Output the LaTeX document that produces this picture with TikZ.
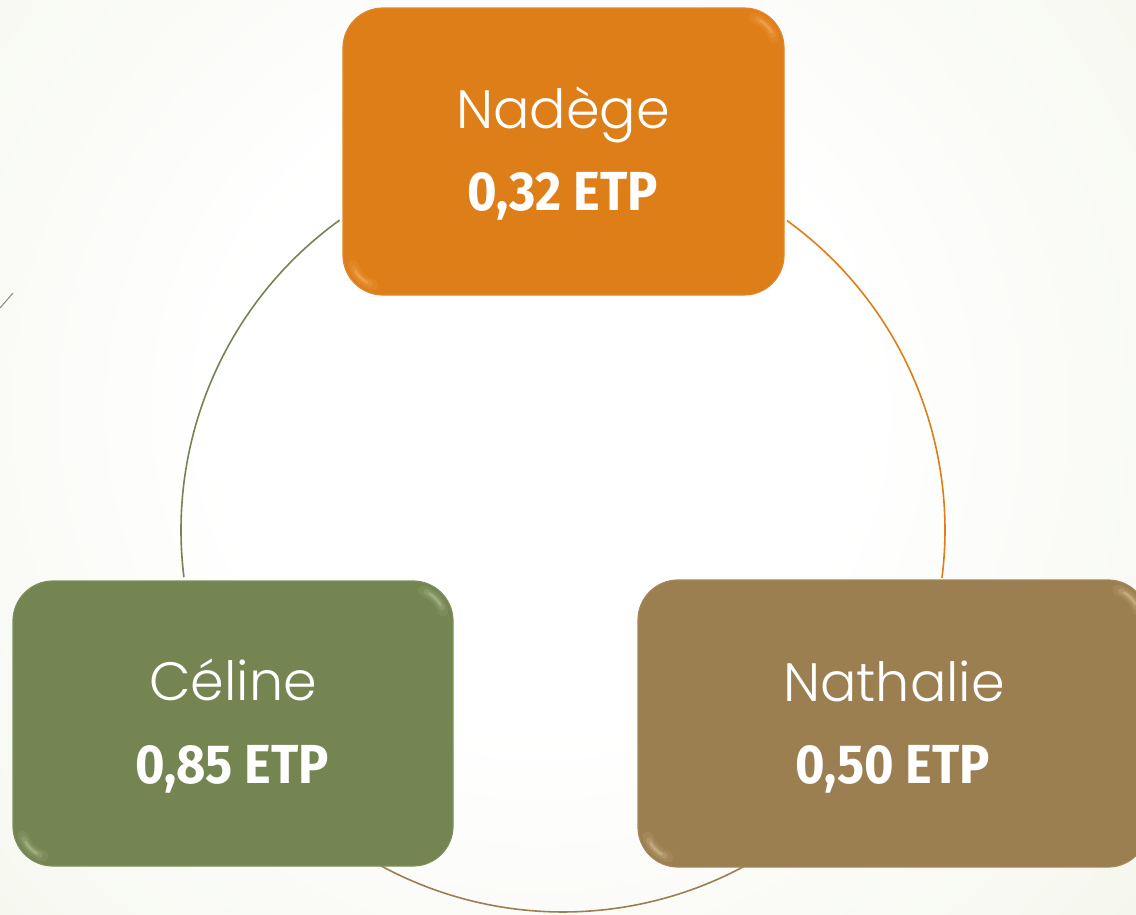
\documentclass[tikz,border=0pt]{standalone}
\usepackage{fontspec}
\newfontfamily\namefont{Poppins}[UprightFont=* Light]
\newfontfamily\valfont{Fira Sans}[FakeStretch=0.92]
\definecolor{bgc}{HTML}{EDF1E1}
\definecolor{bgd}{HTML}{E6EDD5}
\definecolor{cnad}{HTML}{DE7E19}
\definecolor{cnadl}{HTML}{E3852A}
\definecolor{cnadh}{HTML}{FFC070}
\definecolor{ccel}{HTML}{748552}
\definecolor{ccell}{HTML}{7E8F5C}
\definecolor{ccelh}{HTML}{C8D9A8}
\definecolor{cnat}{HTML}{9C7F50}
\definecolor{cnatl}{HTML}{A58858}
\definecolor{cnath}{HTML}{EAD5AA}
\definecolor{cstub}{HTML}{8C8A78}
\pgfdeclareradialshading{bgshade}{\pgfpoint{0bp}{0bp}}{color(0bp)=(white); color(10bp)=(white); color(36bp)=(bgc); color(46bp)=(bgd); color(50bp)=(bgd)}
\tikzset{
  box/.style={rectangle, rounded corners=40pt, inner sep=0pt, line width=1.2pt},
  nametext/.style={text=white, font=\namefont\fontsize{54pt}{60pt}\selectfont, inner sep=0pt, anchor=base},
  valtext/.style={text=white, font=\valfont\bfseries\fontsize{55pt}{60pt}\selectfont, inner sep=0pt, anchor=base},
  ring/.style={line width=1.6pt},
  hla/.style={line width=11pt, line cap=round, opacity=0.10},
  hlb/.style={line width=6pt, line cap=round, opacity=0.18},
  hlc/.style={line width=2.5pt, line cap=round, opacity=0.35}
}
\begin{document}
\begin{tikzpicture}[x=1pt,y=-1pt]
\useasboundingbox (0,0) rectangle (1136,914);
\begin{scope}
  \clip (0,0) rectangle (1136,914);
  \shade[shading=bgshade] (540,410) circle (800pt);
\end{scope}
% ring
\coordinate (c) at (563,530);
\draw[ring, ccel] (c) ++(172.9:382) arc[start angle=172.9, end angle=234.2, radius=382];
\draw[ring, cnad] (c) ++(305.9:382) arc[start angle=305.9, end angle=367.2, radius=382];
\draw[ring, cnat] (c) ++(61.5:382) arc[start angle=61.5, end angle=118.5, radius=382];
% stub
\coordinate (s1) at (0,308);
\coordinate (s2) at (13,293);
\draw[cstub, line width=1pt] (s1) -- (s2);
% boxes
\node[box, fill=cnad, draw=cnadl, minimum width=441pt, minimum height=287pt] (nad) at (563.5,151.5) {};
\node[box, fill=ccel, draw=ccell, minimum width=440pt, minimum height=285pt] (cel) at (233,723.5) {};
\node[box, fill=cnat, draw=cnatl, minimum width=510pt, minimum height=287pt] (nat) at (893,723.5) {};
% highlights
\foreach \b/\h in {nad/cnadh, cel/ccelh, nat/cnath}{
  \draw[hla, \h] ([shift={(-40,40)}]\b.north east) ++(-72:31) arc[start angle=-72, end angle=-18, radius=31];
  \draw[hlb, \h] ([shift={(-40,40)}]\b.north east) ++(-66:31) arc[start angle=-66, end angle=-24, radius=31];
  \draw[hlc, \h] ([shift={(-40,40)}]\b.north east) ++(-60:31) arc[start angle=-60, end angle=-30, radius=31];
  \draw[hla, \h] ([shift={(40,-40)}]\b.south west) ++(108:31) arc[start angle=108, end angle=162, radius=31];
  \draw[hlb, \h] ([shift={(40,-40)}]\b.south west) ++(114:31) arc[start angle=114, end angle=156, radius=31];
  \draw[hlc, \h] ([shift={(40,-40)}]\b.south west) ++(120:31) arc[start angle=120, end angle=150, radius=31];
}
% texts
\node[nametext] (nadn) at (563,128) {Nadège};
\node[valtext] (nadv) at (563,210) {0,32 ETP};
\node[nametext] (celn) at (233,700) {Céline};
\node[valtext] (celv) at (232,783) {0,85 ETP};
\node[nametext] (natn) at (894,701) {Nathalie};
\node[valtext] (natv) at (893,783) {0,50 ETP};
\end{tikzpicture}
\end{document}
